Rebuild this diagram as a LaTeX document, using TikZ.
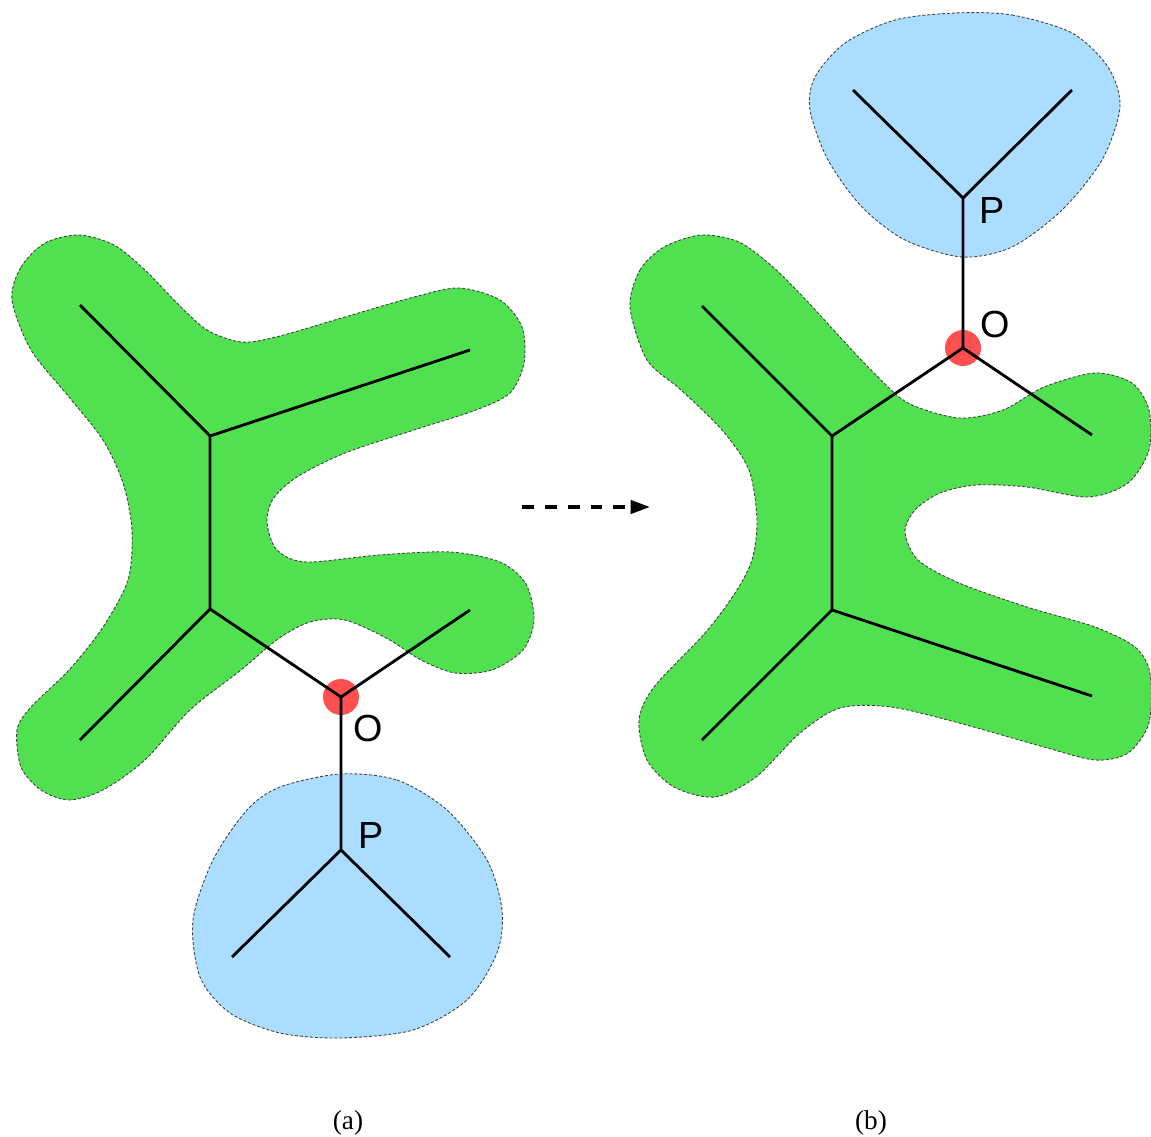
\documentclass[tikz,border=0pt]{standalone}
\usepackage{fontspec}
\usepackage{tikz}
\usetikzlibrary{arrows.meta}
\newfontfamily\labfont{Liberation Sans}
\newfontfamily\capfont{Liberation Serif}
\definecolor{blobgreen}{RGB}{80,224,80}
\definecolor{blobblue}{RGB}{170,221,255}
\definecolor{oxred}{RGB}{255,80,80}

\begin{document}
\begin{tikzpicture}[x=0.2mm, y=-0.2mm,
    bond/.style={line width=1.6pt},
    blob/.style={draw=black!75, line width=0.5pt, dash pattern=on 1.7pt off 1.1pt},
    atomlab/.style={inner sep=0pt, font=\labfont\fontsize{21.5}{22}\selectfont},
    caplab/.style={inner sep=0pt, font=\capfont\fontsize{15.5}{16}\selectfont}]
                \useasboundingbox (0,0) rectangle (1151,1137);

                % Case a: fragment below the body
                \fill[blobgreen] plot[smooth cycle] coordinates {(12,300) (21,267) (45,243) (79,235) (114,245) (145,270) (179,305) (207,330) (241,342) (276,337) (345,317) (414,297) (459,288) (500,300) (522,327) (524,363) (510,393) (476,410) (414,430) (345,453) (297,477) (273,499) (267,523) (277,550) (306,562) (379,555) (450,552) (500,562) (526,584) (534,620) (523,650) (492,670) (455,673) (421,660) (388,639) (345,620) (310,622) (278,639) (241,670) (190,710) (145,760) (103,790) (69,800) (41,790) (21,767) (17,730) (31,707) (69,670) (103,627) (128,580) (132,530) (123,483) (103,440) (69,397) (31,350)};
                \draw[blob] plot[smooth cycle] coordinates {(12,300) (21,267) (45,243) (79,235) (114,245) (145,270) (179,305) (207,330) (241,342) (276,337) (345,317) (414,297) (459,288) (500,300) (522,327) (524,363) (510,393) (476,410) (414,430) (345,453) (297,477) (273,499) (267,523) (277,550) (306,562) (379,555) (450,552) (500,562) (526,584) (534,620) (523,650) (492,670) (455,673) (421,660) (388,639) (345,620) (310,622) (278,639) (241,670) (190,710) (145,760) (103,790) (69,800) (41,790) (21,767) (17,730) (31,707) (69,670) (103,627) (128,580) (132,530) (123,483) (103,440) (69,397) (31,350)};
                \path[blob, fill=blobblue] plot[smooth cycle] coordinates {(340,774) (397,780) (447,810) (487,860) (502,910) (497,953) (467,1000) (413,1030) (340,1038) (280,1033) (230,1013) (200,977) (193,920) (213,860) (247,810) (280,787)};

                \coordinate (aU) at (210,436);
                \coordinate (aL) at (210,609);
                \coordinate (aUl) at (80,305);
                \coordinate (aUr) at (470,350);
                \coordinate (aLl) at (80,740);
                \coordinate (aO) at (341,697);
                \coordinate (aOr) at (470,610);
                \coordinate (aP) at (341,850);
                \coordinate (aPl) at (232,957);
                \coordinate (aPr) at (450,957);
                \fill[oxred] (aO) circle (3.6mm);
                \draw[bond] (aUl) -- (aU) -- (aL) -- (aLl);
                \draw[bond] (aU) -- (aUr);
                \draw[bond] (aL) -- (aO) -- (aOr);
                \draw[bond] (aO) -- (aP) -- (aPl);
                \draw[bond] (aP) -- (aPr);
                \node[atomlab] (aOlab) at (368,728) {O};
                \node[atomlab] (aPlab) at (371,835) {P};

                % Case b: fragment turned above the body
                \fill[blobgreen] plot[smooth cycle] coordinates {(630,307) (640,270) (664,247) (701,235) (739,242) (773,267) (806,300) (840,337) (874,373) (908,403) (959,418) (1003,410) (1044,387) (1095,373) (1132,383) (1149,410) (1149,450) (1128,483) (1088,497) (1027,487) (976,485) (940,493) (915,510) (905,532) (918,560) (959,583) (1027,607) (1095,627) (1135,647) (1150,673) (1149,723) (1128,753) (1095,760) (1044,747) (959,723) (891,707) (840,708) (800,733) (756,777) (715,797) (674,787) (647,760) (639,720) (654,687) (705,633) (735,593) (752,560) (757,520) (749,470) (722,430) (681,390) (647,360)};
                \draw[blob] plot[smooth cycle] coordinates {(630,307) (640,270) (664,247) (701,235) (739,242) (773,267) (806,300) (840,337) (874,373) (908,403) (959,418) (1003,410) (1044,387) (1095,373) (1132,383) (1149,410) (1149,450) (1128,483) (1088,497) (1027,487) (976,485) (940,493) (915,510) (905,532) (918,560) (959,583) (1027,607) (1095,627) (1135,647) (1150,673) (1149,723) (1128,753) (1095,760) (1044,747) (959,723) (891,707) (840,708) (800,733) (756,777) (715,797) (674,787) (647,760) (639,720) (654,687) (705,633) (735,593) (752,560) (757,520) (749,470) (722,430) (681,390) (647,360)};
                \path[blob, fill=blobblue] plot[smooth cycle] coordinates {(955,13) (1012,15) (1072,33) (1108,67) (1120,107) (1102,160) (1062,210) (1012,247) (962,257) (905,240) (862,207) (828,160) (810,110) (815,77) (845,43) (895,20)};

                \coordinate (bU) at (832,436);
                \coordinate (bL) at (832,610);
                \coordinate (bUl) at (702,306);
                \coordinate (bLl) at (702,740);
                \coordinate (bLr) at (1092,696);
                \coordinate (bO) at (963,348);
                \coordinate (bOr) at (1092,435);
                \coordinate (bP) at (963,198);
                \coordinate (bPl) at (853,90);
                \coordinate (bPr) at (1072,90);
                \fill[oxred] (bO) circle (3.6mm);
                \draw[bond] (bUl) -- (bU) -- (bL) -- (bLl);
                \draw[bond] (bL) -- (bLr);
                \draw[bond] (bU) -- (bO) -- (bOr);
                \draw[bond] (bO) -- (bP) -- (bPl);
                \draw[bond] (bP) -- (bPr);
                \node[atomlab] (bOlab) at (995,324) {O};
                \node[atomlab] (bPlab) at (992,210) {P};

                % arrow from a to b
                \coordinate (arrS) at (522,507);
                \coordinate (arrE) at (650,507);
                \draw[line width=2pt, dash pattern=on 6.8pt off 6.2pt, -{Triangle[length=11pt, width=7.5pt]}] (arrS) -- (arrE);

                % captions
                \node[caplab] (capA) at (348,1123) {(a)};
                \node[caplab] (capB) at (871,1123) {(b)};
            \end{tikzpicture}
\end{document}
